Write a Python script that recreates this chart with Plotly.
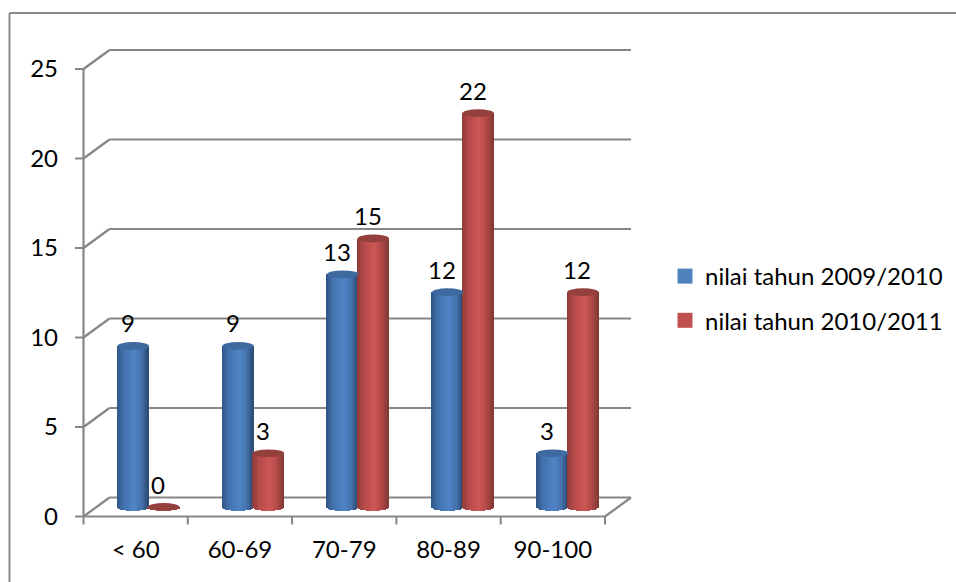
import math
import plotly.graph_objects as go

categories = ["< 60", "60-69", "70-79", "80-89", "90-100"]
nilai_2009 = [9, 9, 13, 12, 3]
nilai_2010 = [0, 3, 15, 22, 12]
y_ticks = [0, 5, 10, 15, 20, 25]
name_2009 = "nilai tahun 2009/2010"
name_2010 = "nilai tahun 2010/2011"

W, H = 956, 582
FONT = "Lato"
FS = 24
GRID = "#868686"
TEXT = "#000000"
PX_Y = 17.9          # pixels per value unit
PX_X = 104.3         # pixels per category
X0_PX, Y0_PX = 83.5, 516.5   # pixel position of category 0 / value 0
L, R, T, B = 70, 640, 44, 528  # plot area in pixels
DX = 26 / PX_X       # depth of the floor, category units
DY = 19 / PX_Y       # depth of the floor, value units
BASE = 9.5 / PX_Y    # floor position of the cylinder centres
RY = 3.9 / PX_Y      # ellipse half height
BAR_W = 31.5 / PX_X
C1, C2 = 0.477, 0.769
STEP = 1.005         # cylinders sit slightly further apart than the front axis ticks
X_TOP = 5 + DX

N = 21
shade_blue = [(0.0, (46, 84, 132)), (0.2, (66, 112, 170)), (0.55, (80, 132, 198)),
              (0.8, (68, 114, 172)), (1.0, (42, 72, 112))]
shade_red = [(0.0, (140, 58, 56)), (0.2, (178, 74, 72)), (0.55, (206, 88, 86)),
             (0.8, (176, 72, 70)), (1.0, (128, 56, 54))]


def shade(stops, t):
    for (t0, c0), (t1, c1) in zip(stops, stops[1:]):
        if t <= t1:
            f = (t - t0) / (t1 - t0)
            return "rgb(%d,%d,%d)" % tuple(round(a + (b - a) * f) for a, b in zip(c0, c1))
    return "rgb(%d,%d,%d)" % stops[-1][1]


def paper_x(px):
    return (px - L) / (R - L)


def paper_y(px):
    return (B - px) / (B - T)


fig = go.Figure()


def cylinders(values, centre, stops, top_colour):
    sw = BAR_W / N
    for i in range(N):
        t = (i + 0.5) / N
        u = 2 * t - 1
        drop = RY * math.sqrt(max(0, 1 - u * u))
        fig.add_trace(go.Bar(
            x=[k * STEP + centre + u * BAR_W / 2 for k in range(len(values))],
            y=[v + drop for v in values],
            base=[BASE - drop] * len(values),
            width=sw * 1.25,
            marker=dict(color=shade(stops, t), line=dict(width=0)),
            showlegend=False, hoverinfo="skip",
        ))
    return [dict(type="circle", xref="x", yref="y", layer="above",
                 x0=k * STEP + centre - BAR_W / 2, x1=k * STEP + centre + BAR_W / 2,
                 y0=v + BASE - RY, y1=v + BASE + RY,
                 fillcolor=top_colour, line=dict(width=0))
            for k, v in enumerate(values)]


caps_blue = cylinders(nilai_2009, C1, shade_blue, "#3f6a9f")
caps_red = cylinders(nilai_2010, C2, shade_red, "#94403d")

for name, col in ((name_2009, "#4f81bd"), (name_2010, "#c0504d")):
    fig.add_trace(go.Scatter(
        x=[None], y=[None], mode="markers", name=name, legendgroup=name,
        marker=dict(symbol="square", size=15, color=col),
    ))

shapes = []


def line(x0, y0, x1, y1, width=2.2):
    return dict(type="line", xref="x", yref="y", layer="below", x0=x0, y0=y0, x1=x1, y1=y1,
                line=dict(color=GRID, width=width))


TICK_X = 8.5 / PX_X
TICK_Y = 8 / PX_Y
for t in y_ticks:
    shapes.append(line(DX, t + DY, X_TOP, t + DY))
    shapes.append(line(0, t, DX, t + DY))
    shapes.append(line(-TICK_X, t, 0, t, 2))
for k in range(len(categories) + 1):
    shapes.append(line(k, 0, k, -TICK_Y, 2))
shapes.append(line(0, 0, 0, 25))
shapes.append(line(0, 0, 5, 0))
shapes.append(line(5, 0, X_TOP, DY))
shapes += caps_blue + caps_red
# outer chart frame, open at the right and bottom
frame = dict(color="#8a8a8a", width=2)
shapes.append(dict(type="line", xref="paper", yref="paper", x0=paper_x(9.5), x1=paper_x(W),
                   y0=paper_y(13), y1=paper_y(13), line=frame))
shapes.append(dict(type="line", xref="paper", yref="paper", x0=paper_x(9.5), x1=paper_x(9.5),
                   y0=paper_y(13), y1=paper_y(H), line=frame))

annotations = []
for values, centre in ((nilai_2009, C1), (nilai_2010, C2)):
    for k, v in enumerate(values):
        annotations.append(dict(x=k * STEP + centre, y=v + BASE, xref="x", yref="y", text=str(v),
                                showarrow=False, xshift=-5.5, yshift=23,
                                font=dict(family=FONT, size=FS, color=TEXT)))

fig.update_layout(
    width=W, height=H, autosize=False,
    margin=dict(l=L, r=W - R, t=T, b=H - B, pad=0, autoexpand=False),
    paper_bgcolor="white", plot_bgcolor="white",
    barmode="overlay", bargap=0,
    font=dict(family=FONT, size=FS, color=TEXT),
    shapes=shapes, annotations=annotations,
    xaxis=dict(range=[(L - X0_PX) / PX_X, (R - X0_PX) / PX_X], tickmode="array",
               tickvals=[k + 0.5 for k in range(len(categories))], ticktext=categories,
               ticks="", showgrid=False, zeroline=False, showline=False, ticklabelstandoff=5,
               tickfont=dict(family=FONT, size=FS, color=TEXT)),
    yaxis=dict(range=[(Y0_PX - B) / PX_Y, (Y0_PX - T) / PX_Y], tickmode="array", tickvals=y_ticks,
               ticks="", showgrid=False, zeroline=False, showline=False,
               ticklabelstandoff=11,
               tickfont=dict(family=FONT, size=FS, color=TEXT)),
    legend=dict(x=paper_x(665), y=paper_y(254), xanchor="left", yanchor="top",
                tracegroupgap=10, bgcolor="rgba(0,0,0,0)", itemsizing="trace",
                font=dict(family=FONT, size=FS, color=TEXT)),
)

fig.write_html("out.html", post_script="document.body.style.margin='0';document.body.style.overflow='hidden';",
               config={"displayModeBar": False})
